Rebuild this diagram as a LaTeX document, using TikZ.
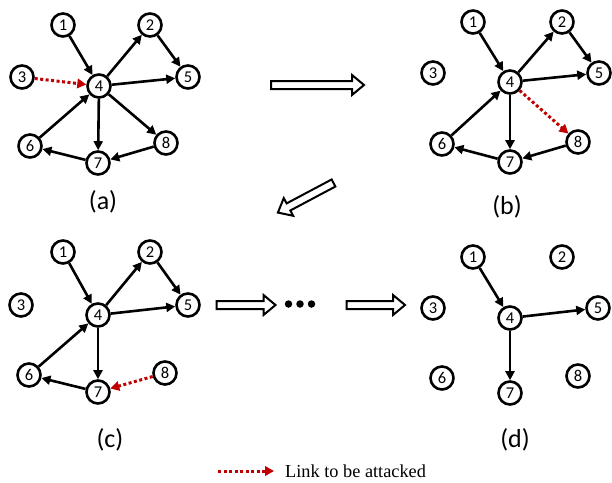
\documentclass[tikz,border=0pt]{standalone}
\usepackage{fontspec}
\setmainfont{Carlito}
\newfontfamily\legendfont{Liberation Serif}
\usetikzlibrary{arrows.meta}
\definecolor{attackred}{RGB}{192,0,0}
\tikzset{
  vtx/.style={circle,draw,line width=2.6pt,minimum size=23pt,inner sep=0pt,
    font=\fontsize{16.5}{16.5}\selectfont},
  lnk/.style={line width=2.6pt,-{Triangle[length=9pt,width=9pt]}},
  atk/.style={line width=3pt,draw=attackred,dash pattern=on 3pt off 2.5pt,
    -{Triangle[length=9pt,width=9.5pt,fill=attackred]}},
  panel/.style={font=\fontsize{26}{26}\selectfont},
  dotmark/.style={circle,fill,inner sep=0pt,minimum size=7.5pt},
  % hollow block arrow, drawn from its tail along +x; #1 = total length
  pics/blockarrow/.style={code={
    \draw[line width=2pt,fill=white,line join=miter]
      (0,-4) -- ({#1-12},-4) -- ({#1-12},-10) -- (#1,0) --
      ({#1-12},10) -- ({#1-12},4) -- (0,4) -- cycle;
  }}
}
\begin{document}
\begin{tikzpicture}[x=1pt,y=-1pt]
\useasboundingbox (0,0) rectangle (612,482);

% ---- graph (a)
\node[vtx] (a1) at (63,25) {1};
\node[vtx] (a2) at (150,25) {2};
\node[vtx] (a3) at (22,77) {3};
\node[vtx] (a4) at (99,86) {4};
\node[vtx] (a5) at (188,77) {5};
\node[vtx] (a6) at (30,146) {6};
\node[vtx] (a7) at (98,163) {7};
\node[vtx] (a8) at (166,143) {8};
\node[panel] (la) at (103,202) {(a)};
\draw[lnk] (a1) -- (a4);
\draw[lnk] (a4) -- (a2);
\draw[lnk] (a2) -- (a5);
\draw[lnk] (a4) -- (a5);
\draw[lnk] (a4) -- (a8);
\draw[lnk] (a4) -- (a7);
\draw[lnk] (a8) -- (a7);
\draw[lnk] (a7) -- (a6);
\draw[lnk] (a6) -- (a4);
\draw[atk] (a3) -- (a4);

% ---- graph (b)
\node[vtx] (b1) at (473,22) {1};
\node[vtx] (b2) at (562,22) {2};
\node[vtx] (b3) at (433,73) {3};
\node[vtx] (b4) at (510,82) {4};
\node[vtx] (b5) at (599,73) {5};
\node[vtx] (b6) at (442,144) {6};
\node[vtx] (b7) at (510,162) {7};
\node[vtx] (b8) at (578,142) {8};
\node[panel] (lb) at (507,207) {(b)};
\draw[lnk] (b1) -- (b4);
\draw[lnk] (b4) -- (b2);
\draw[lnk] (b2) -- (b5);
\draw[lnk] (b4) -- (b5);
\draw[lnk] (b4) -- (b7);
\draw[lnk] (b8) -- (b7);
\draw[lnk] (b7) -- (b6);
\draw[lnk] (b6) -- (b4);
\draw[atk] (b4) -- (b8);

% ---- graph (c)
\node[vtx] (c1) at (63,252) {1};
\node[vtx] (c2) at (150,252) {2};
\node[vtx] (c3) at (21,305) {3};
\node[vtx] (c4) at (98,315) {4};
\node[vtx] (c5) at (188,305) {5};
\node[vtx] (c6) at (29,375) {6};
\node[vtx] (c7) at (98,392) {7};
\node[vtx] (c8) at (165,373) {8};
\node[panel] (lc) at (110,440) {(c)};
\draw[lnk] (c1) -- (c4);
\draw[lnk] (c4) -- (c2);
\draw[lnk] (c2) -- (c5);
\draw[lnk] (c4) -- (c5);
\draw[lnk] (c4) -- (c7);
\draw[lnk] (c7) -- (c6);
\draw[lnk] (c6) -- (c4);
\draw[atk] (c8) -- (c7);

% ---- graph (d)
\node[vtx] (d1) at (473,257) {1};
\node[vtx] (d2) at (562,257) {2};
\node[vtx] (d3) at (433,308) {3};
\node[vtx] (d4) at (510,318) {4};
\node[vtx] (d5) at (598,308) {5};
\node[vtx] (d6) at (442,378) {6};
\node[vtx] (d7) at (510,393) {7};
\node[vtx] (d8) at (578,376) {8};
\node[panel] (ld) at (515,440) {(d)};
\draw[lnk] (d1) -- (d4);
\draw[lnk] (d4) -- (d5);
\draw[lnk] (d4) -- (d7);

% ---- stage arrows between the graphs
\pic at (271,85) {blockarrow=93};
\pic[rotate=208] at (333.5,183) {blockarrow=63};
\pic at (216.5,305) {blockarrow=59};
\node[dotmark] (p1) at (288.5,304) {};
\node[dotmark] (p2) at (300,304) {};
\node[dotmark] (p3) at (311.5,304) {};
\pic at (346.5,305) {blockarrow=58.5};

% ---- legend
\coordinate (legfrom) at (218,471);
\coordinate (legto) at (274,471);
\draw[atk] (legfrom) -- (legto);
\node[anchor=west,inner sep=0pt,font=\legendfont\fontsize{18.3}{18.3}\selectfont] (legtext) at (285,471) {Link to be attacked};
\end{tikzpicture}
\end{document}
